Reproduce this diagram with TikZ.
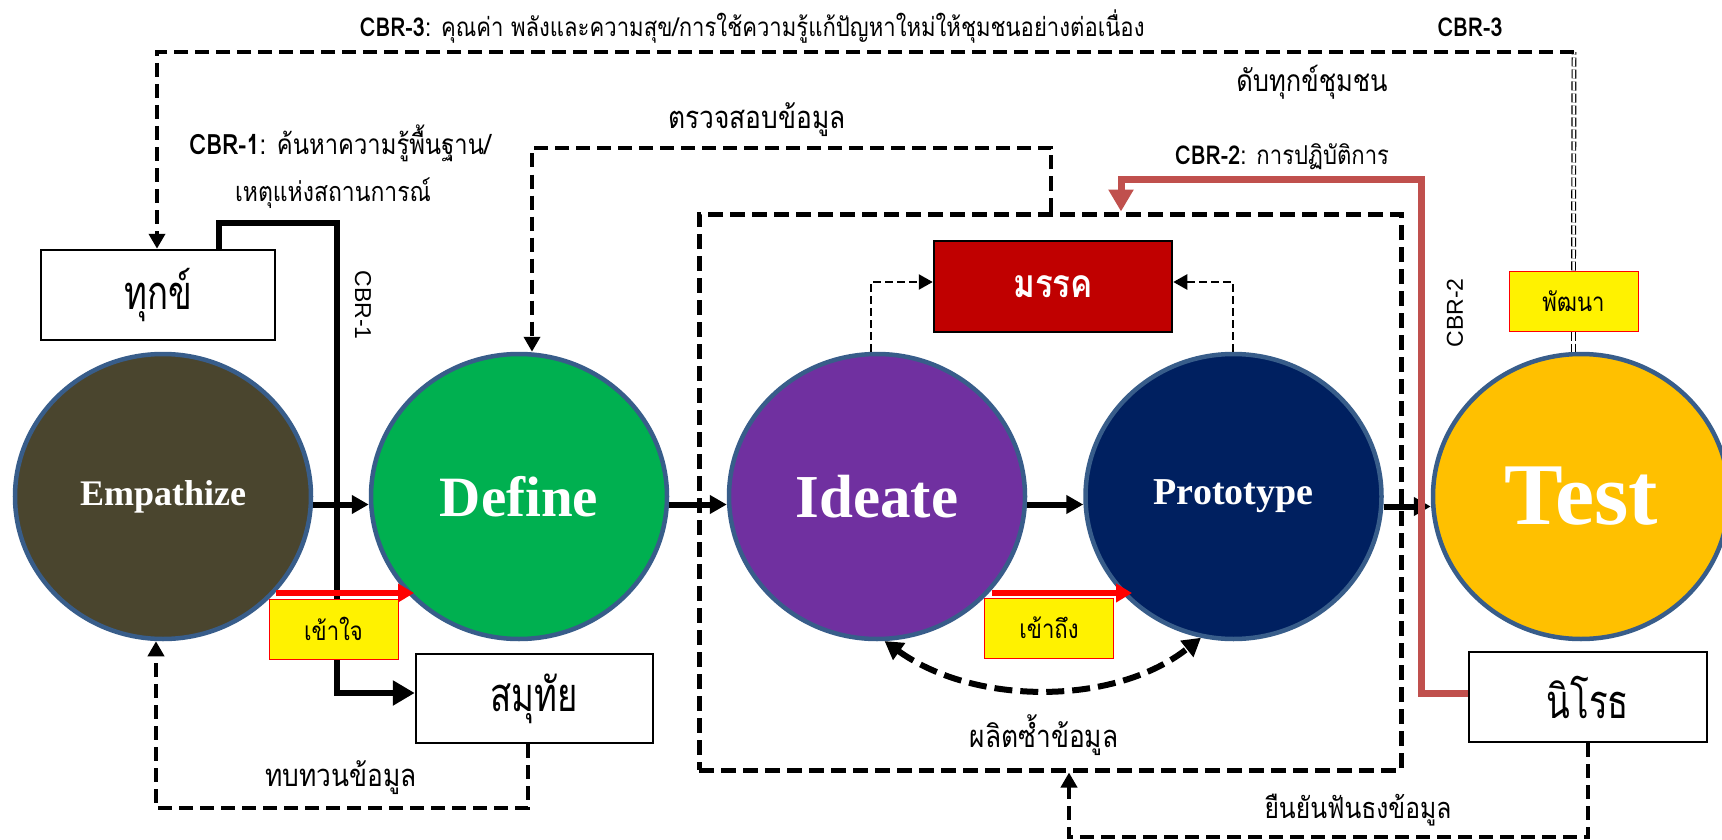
\documentclass[tikz,border=0pt]{standalone}
\usepackage{fontspec}
\usetikzlibrary{arrows.meta,shapes.geometric}
\newfontfamily\thai[Script=Thai,FakeStretch=0.85]{Loma}
\newfontfamily\thaib[Script=Thai,FakeStretch=0.74]{Loma}
\newfontfamily\serifb{Liberation Serif}
\newfontfamily\arialf{Liberation Sans}
\definecolor{empc}{HTML}{4A452E}
\definecolor{defc}{HTML}{00B050}
\definecolor{idec}{HTML}{7030A0}
\definecolor{proc}{HTML}{002060}
\definecolor{tesc}{HTML}{FFC000}
\definecolor{ringc}{HTML}{385D8A}
\definecolor{marc}{HTML}{C00000}
\definecolor{cbrred}{HTML}{C0504D}
\begin{document}
\begin{tikzpicture}[x=1pt,y=-1pt,
  phase/.style={ellipse, draw=ringc, line width=4.5pt, minimum width=296pt, minimum height=285pt, inner sep=0pt, text=white},
  wbox/.style={draw=black, line width=2.5pt, fill=white, inner sep=0pt, font=\thaib\fontsize{47}{50}\selectfont},
  ybox/.style={fill=yellow, draw=red, line width=1pt, inner sep=0pt, minimum width=129pt, minimum height=60pt, font=\thai\fontsize{26}{30}\selectfont},
  flow/.style={line width=6pt, -{Triangle[length=17pt,width=18pt]}},
  dsh/.style={line width=4pt, dash pattern=on 14pt off 7pt},
  dtip/.style={-{Triangle[length=15pt,width=16pt]}},
  thindsh/.style={line width=2.5pt, dash pattern=on 8pt off 4pt, -{Triangle[length=14pt,width=15pt]}},
  dbl/.style={double, double distance=2.5pt, line width=1.2pt, dash pattern=on 9pt off 3pt},
  cbrone/.style={line width=6pt, -{Triangle[length=22pt,width=24pt]}},
  cbrtwo/.style={line width=7pt, draw=cbrred, -{Triangle[length=22pt,width=24pt]}},
  redarr/.style={line width=6pt, draw=red, -{Triangle[length=16pt,width=18pt]}},
  lbl/.style={font=\thai\fontsize{26}{30}\selectfont, inner sep=0pt},
  lblb/.style={font=\thai\fontsize{31}{34}\selectfont, inner sep=0pt}
]
\useasboundingbox (0,0) rectangle (1722,840);
\fill[white] (0,0) rectangle (1722,840);

% big dashed box
\node[draw, line width=5pt, dash pattern=on 15pt off 7pt, minimum width=702pt, minimum height=556pt, inner sep=0pt] (box) at (1050,492) {};

% phases
\node[phase, fill=empc, font=\serifb\bfseries\fontsize{36}{40}\selectfont] (emp) at (163,496.5) {Empathize};
\node[phase, fill=defc, font=\serifb\bfseries\fontsize{57}{60}\selectfont] (def) at (519,496.5) {Define};
\node[phase, fill=idec, font=\serifb\bfseries\fontsize{61}{65}\selectfont] (ide) at (877,496.5) {Ideate};
\node[phase, fill=proc, font=\serifb\bfseries\fontsize{38}{42}\selectfont] (pro) at (1233.5,496.5) {Prototype};
\node[phase, fill=tesc, font=\serifb\bfseries\fontsize{88}{92}\selectfont] (tes) at (1581,496.5) {Test};

% boxes
\node[wbox, minimum width=234pt, minimum height=90pt] (tuk) at (158,295) {ทุกข์};
\node[wbox, minimum width=237pt, minimum height=89pt] (sam) at (534.5,698.5) {สมุทัย};
\node[wbox, minimum width=238pt, minimum height=90pt] (nir) at (1588,697) {นิโรธ};
\node[draw=black, line width=2.5pt, fill=marc, inner sep=0pt, minimum width=238pt, minimum height=91pt, text=white, font=\thai\bfseries\fontsize{39}{44}\selectfont] (mar) at (1053,286.5) {มรรค};

% flow arrows
\draw[flow] ([yshift=-8pt]emp.east) -- ([yshift=-8pt]def.west);
\draw[flow] ([yshift=-8pt]def.east) -- ([yshift=-8pt]ide.west);
\draw[flow] ([yshift=-8pt]ide.east) -- ([yshift=-8pt]pro.west);
\draw[flow] ([yshift=-10pt]pro.east) -- ([yshift=-10pt]tes.west);

% CBR-1 thick line
\coordinate (k1) at (219,223);
\coordinate (k2) at (337,223);
\draw[cbrone] (k1 |- tuk.north) -- (k1) -- (k2) -- (k2 |- 0,693) -- (sam.west |- 0,693);
\node[rotate=-90, font=\arialf\fontsize{23}{26}\selectfont, inner sep=0pt] (c1v) at (363,305) {CBR-1};

% yellow boxes and red arrows
\coordinate (ra1) at (276,593);
\coordinate (ra2) at (414,593);
\draw[redarr] (ra1) -- (ra2);
\node[ybox] (kjai) at (333.5,629) {เข้าใจ};
\coordinate (rb1) at (992,593);
\coordinate (rb2) at (1132,593);
\draw[redarr] (rb1) -- (rb2);
\node[ybox] (kthueng) at (1049,628) {เข้าถึง};

% top CBR-3 loop
\coordinate (c3r) at (1574,52);
\coordinate (c3l) at (157,52);
\node[ybox] (pat) at (1573.5,301) {พัฒนา};
\draw[dbl] (pat.south) -- (pat.south |- tes.north);
\draw[dbl] (pat.north) -- (c3r);
\draw[dsh, dtip] (c3r) -- (c3l) -- (c3l |- tuk.north);
\node[lbl] (t3) at (752,27) {\textbf{CBR-3}: คุณค่า พลังและความสุข/การใช้ความรู้แก้ปัญหาใหม่ให้ชุมชนอย่างต่อเนื่อง};
\node[lbl] (t3r) at (1470,27) {\textbf{CBR-3}};
\node[lbl, font=\thai\fontsize{30}{34}\selectfont] (dub) at (1312,82) {ดับทุกข์ชุมชน};

% CBR-1 labels
\node[lbl, font=\thai\fontsize{28}{32}\selectfont] (c1a) at (340,143) {\textbf{CBR-1}: ค้นหาความรู้พื้นฐาน/};
\node[lbl, font=\thai\fontsize{27}{32}\selectfont] (c1b) at (333,193) {เหตุแห่งสถานการณ์};

% check data loop
\coordinate (t1) at (1051,148);
\coordinate (t2) at (532,148);
\draw[dsh, dtip] (t1 |- box.north) -- (t1) -- (t2) -- (t2 |- def.north);
\node[lblb] (chk) at (757,120) {ตรวจสอบข้อมูล};

% CBR-2 red loop
\coordinate (r1) at (1421,180);
\coordinate (r2) at (1121,180);
\draw[cbrtwo] (nir.west |- 0,693) -| (r1) -- (r2) -- (r2 |- box.north);
\node[lbl] (c2a) at (1282,157) {\textbf{CBR-2}: การปฏิบัติการ};
\node[rotate=90, font=\arialf\fontsize{23}{26}\selectfont, inner sep=0pt] (c2v) at (1455,313) {CBR-2};

% magga arrows
\coordinate (m1) at (871,282);
\coordinate (m2) at (1233,282);
\draw[thindsh] (m1 |- ide.north) -- (m1) -- (mar.west |- m1);
\draw[thindsh] (m2 |- pro.north) -- (m2) -- (mar.east |- m2);

% review loop
\coordinate (b1) at (528,808);
\coordinate (b2) at (156,808);
\draw[dsh, dtip] (b1 |- sam.south) -- (b1) -- (b2) -- (b2 |- emp.south);
\node[lblb] (rev) at (341,778) {ทบทวนข้อมูล};

% confirm loop
\coordinate (y1) at (1588,837);
\coordinate (y2) at (1069,837);
\draw[dsh, dtip] (nir.south) -- (y1) -- (y2) -- (y2 |- box.south);
\node[lbl, font=\thai\fontsize{29}{32}\selectfont] (conf) at (1358,810) {ยืนยันฟันธงข้อมูล};

% reproduce curve
\draw[line width=6pt, dash pattern=on 18pt off 8pt, {Triangle[length=18pt,width=20pt]}-{Triangle[length=18pt,width=20pt]}] (ide.-87) .. controls (975,706) and (1115,706) .. (pro.-103);
\node[lblb] (rep) at (1044,735) {ผลิตซ้ำข้อมูล};
\end{tikzpicture}
\end{document}
